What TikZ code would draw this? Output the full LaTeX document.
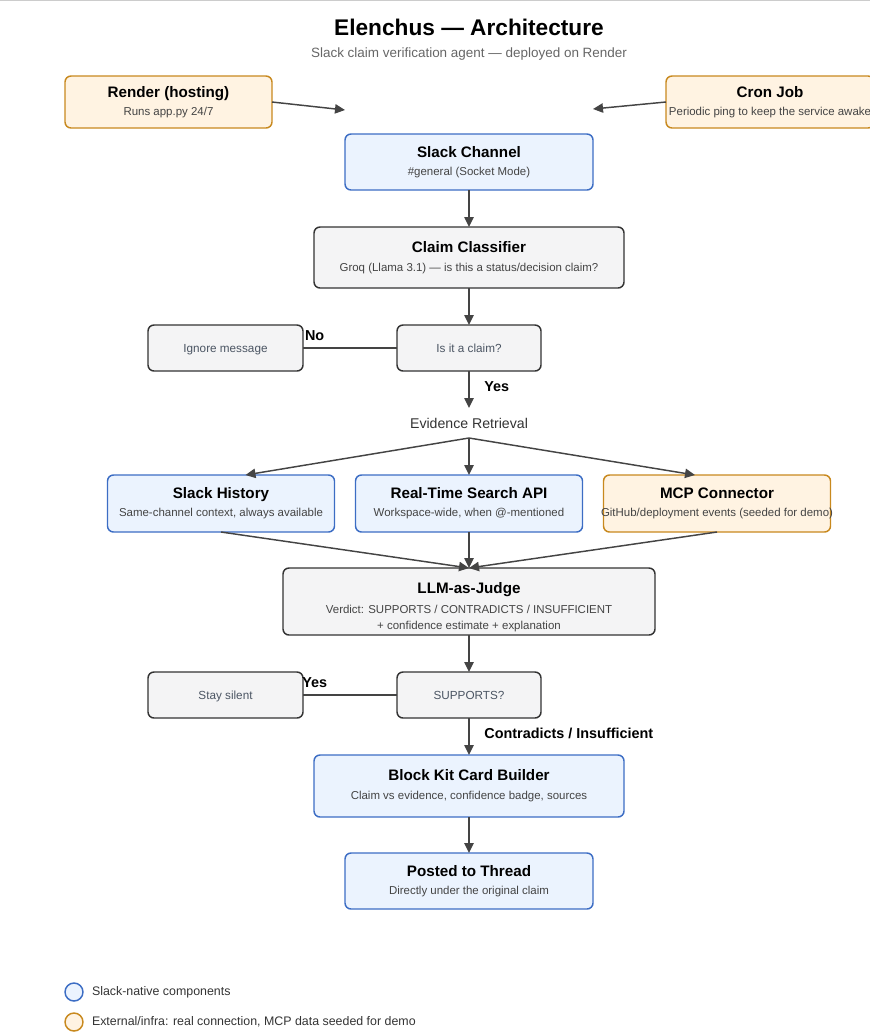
\documentclass[tikz,border=0pt]{standalone}
\usepackage{fontspec}
\setmainfont{Liberation Sans}
\usepackage{xcolor}
\usepackage{tikz}
\usetikzlibrary{positioning,arrows.meta,calc}
\definecolor{slackfill}{HTML}{EBF3FE}
\definecolor{slackline}{HTML}{3C6DC4}
\definecolor{extfill}{HTML}{FFF3E2}
\definecolor{extline}{HTML}{C8891E}
\definecolor{corefill}{HTML}{F4F4F5}
\definecolor{coreline}{HTML}{333333}
\definecolor{arrgray}{HTML}{444444}
\definecolor{subgray}{HTML}{444444}
\definecolor{askgray}{HTML}{4B5563}
\newcommand{\boxtitle}[1]{{\color{black}\fontsize{11.4}{14}\selectfont\bfseries #1}}
\tikzset{
  base/.style={draw,line width=1.1pt,rounded corners=4.5pt,align=center,inner sep=2pt,outer sep=0pt,
    font=\fontsize{8.6}{12}\selectfont,text=subgray},
  slackbox/.style={base,draw=slackline,fill=slackfill},
  extbox/.style={base,draw=extline,fill=extfill},
  corebox/.style={base,draw=coreline,fill=corefill},
  askbox/.style={corebox,minimum height=34.5pt,text height=6.3pt,text depth=0pt,
    font=\fontsize{8.8}{10}\selectfont,text=askgray},
  evbox/.style={minimum width=170.25pt,minimum height=42.75pt},
  arr/.style={-{Triangle[length=7.5pt,width=7pt]},line width=1.1pt,draw=arrgray},
  plainline/.style={line width=1.1pt,draw=arrgray},
  edgelabel/.style={font=\fontsize{10.8}{12}\selectfont\bfseries,inner sep=0pt,text=black},
  legenddot/.style={circle,draw,line width=1.1pt,minimum size=13.5pt,inner sep=0pt},
  legendtext/.style={anchor=west,font=\fontsize{9.3}{11}\selectfont,text=black!80,inner sep=0pt}
}

\begin{document}
\begin{tikzpicture}[x=0.75pt,y=-0.75pt]
\useasboundingbox (0,0) rectangle (870,1032);
\draw[black!20,line width=1.1pt] (0,0.5) -- (870,0.5);

\node[font=\fontsize{17}{20}\selectfont\bfseries] (title) at (469,27) {Elenchus — Architecture};
\node[font=\fontsize{10.1}{12}\selectfont,text=black!60] (subtitle) at (469,54) {Slack claim verification agent — deployed on Render};

% hosting / keep-alive
\node[extbox, minimum width=155.25pt, minimum height=39pt] (render) at (168.5,102) {\boxtitle{Render (hosting)}\\[1.5pt]Runs app.py 24/7};
\node[extbox, minimum width=156pt, minimum height=39pt] (cron) at (770,102) {\boxtitle{Cron Job}\\[1.5pt]\makebox[150pt]{Periodic ping to keep the service awake}};
\coordinate (renderin) at (345,110);
\coordinate (cronin) at (593,109);
\draw[arr] (render.east) -- (renderin);
\draw[arr] (cron.west) -- (cronin);

% main flow
\node[slackbox, minimum width=186pt, minimum height=42pt] (channel) at (469,162) {\boxtitle{Slack Channel}\\[1.5pt]\#general (Socket Mode)};
\node[corebox, below=27.75pt of channel, minimum width=232.5pt, minimum height=45.75pt] (classifier) {\boxtitle{Claim Classifier}\\[2.5pt]Groq (Llama 3.1) — is this a status/decision claim?};
\node[askbox, below=27.75pt of classifier, minimum width=108pt] (isclaim) {Is it a claim?};
\node[askbox, left=70.5pt of isclaim, minimum width=116.25pt] (ignore) {Ignore message};
\node[below=27.75pt of isclaim, minimum height=22.5pt, inner sep=0pt, outer sep=0pt, font=\fontsize{10.6}{12}\selectfont, text=black!80] (evidence) {Evidence Retrieval};

\draw[arr] (channel) -- (classifier);
\draw[arr] (classifier) -- (isclaim);
\draw[plainline] (isclaim.west) -- (ignore.east) node[edgelabel, anchor=west, xshift=1pt, yshift=9pt] {No};
\draw[arr] (isclaim) -- (evidence) node[edgelabel, pos=0.42, right=11pt] {Yes};

% evidence sources
\node[slackbox, evbox, below=27.75pt of evidence] (search) {\boxtitle{Real-Time Search API}\\[1.5pt]Workspace-wide, when @-mentioned};
\node[slackbox, evbox, left=15.75pt of search] (history) {\boxtitle{Slack History}\\[1.5pt]Same-channel context, always available};
\node[extbox, evbox, right=15.75pt of search] (mcp) {\boxtitle{MCP Connector}\\[1.5pt]\makebox[160pt]{GitHub/deployment events (seeded for demo)}};

\draw[arr] (evidence.south) -- ($(history.north)+(24.5,0)$);
\draw[arr] (evidence.south) -- (search.north);
\draw[arr] (evidence.south) -- ($(mcp.north)+(-22,0)$);

\node[corebox, below=27pt of search, minimum width=279pt, minimum height=50.25pt] (judge) {\rule{0pt}{17pt}\boxtitle{LLM-as-Judge}\\[3pt]Verdict: SUPPORTS / CONTRADICTS / INSUFFICIENT\\+ confidence estimate + explanation};
\draw[arr] (history.south) -- (judge.north);
\draw[arr] (search.south) -- (judge.north);
\draw[arr] (mcp.south) -- (judge.north);

\node[askbox, below=27.75pt of judge, minimum width=108pt] (supports) {SUPPORTS?};
\node[askbox, left=70.5pt of supports, minimum width=116.25pt] (silent) {Stay silent};
\draw[arr] (judge) -- (supports);
\draw[plainline] (supports.west) -- (silent.east) node[edgelabel, anchor=west, xshift=-1pt, yshift=9pt] {Yes};

\node[slackbox, below=27.75pt of supports, minimum width=232.5pt, minimum height=46.5pt] (cardbuilder) {\boxtitle{Block Kit Card Builder}\\[2.5pt]Claim vs evidence, confidence badge, sources};
\draw[arr] (supports) -- (cardbuilder) node[edgelabel, pos=0.42, anchor=west, xshift=11pt] {Contradicts / Insufficient};

\node[slackbox, below=27pt of cardbuilder, minimum width=186pt, minimum height=42pt] (thread) {\boxtitle{Posted to Thread}\\[1.5pt]Directly under the original claim};
\draw[arr] (cardbuilder) -- (thread);

% legend
\node[legenddot, draw=slackline, fill=slackfill] (dotslack) at (74,992) {};
\node[legendtext, right=6pt of dotslack] (legslack) {Slack-native components};
\node[legenddot, draw=extline, fill=extfill] (dotext) at (74,1022) {};
\node[legendtext, right=6pt of dotext] (legext) {External/infra: real connection, MCP data seeded for demo};
\end{tikzpicture}
\end{document}
